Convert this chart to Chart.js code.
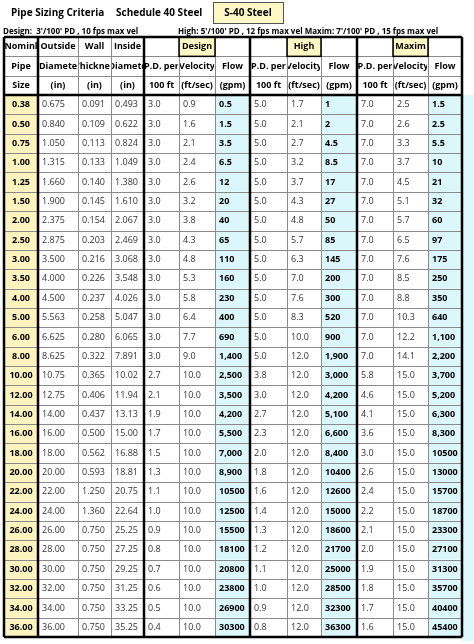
<!DOCTYPE html>
<html>
<head>
<meta charset="utf-8">
<script src="https://cdn.jsdelivr.net/npm/chart.js@4.4.0/dist/chart.umd.min.js"></script>
<style>
  html, body { margin: 0; padding: 0; background: #fff; }
  #wrap { width: 474px; height: 644px; position: relative; }
</style>
</head>
<body>
<div id="wrap"><canvas id="pipe-table"></canvas></div>
<script>
// Table values
const sizes = ["0.38","0.50","0.75","1.00","1.25","1.50","2.00","2.50","3.00","3.50","4.00","5.00","6.00","8.00","10.00","12.00","14.00","16.00","18.00","20.00","22.00","24.00","26.00","28.00","30.00","32.00","34.00","36.00"];
const outsideDia = ["0.675","0.840","1.050","1.315","1.660","1.900","2.375","2.875","3.500","4.000","4.500","5.563","6.625","8.625","10.75","12.75","14.00","16.00","18.00","20.00","22.00","24.00","26.00","28.00","30.00","32.00","34.00","36.00"];
const wall = ["0.091","0.109","0.113","0.133","0.140","0.145","0.154","0.203","0.216","0.226","0.237","0.258","0.280","0.322","0.365","0.406","0.437","0.500","0.562","0.593","1.250","1.360","0.750","0.750","0.750","0.750","0.750","0.750"];
const insideDia = ["0.493","0.622","0.824","1.049","1.380","1.610","2.067","2.469","3.068","3.548","4.026","5.047","6.065","7.891","10.02","11.94","13.13","15.00","16.88","18.81","20.75","22.64","25.25","27.25","29.25","31.25","33.25","35.25"];
const designPD = ["3.0","3.0","3.0","3.0","3.0","3.0","3.0","3.0","3.0","3.0","3.0","3.0","3.0","3.0","2.7","2.1","1.9","1.7","1.5","1.3","1.1","1.0","0.9","0.8","0.7","0.6","0.5","0.4"];
const designVel = ["0.9","1.6","2.1","2.4","2.6","3.2","3.8","4.3","4.8","5.3","5.8","6.4","7.7","9.0","10.0","10.0","10.0","10.0","10.0","10.0","10.0","10.0","10.0","10.0","10.0","10.0","10.0","10.0"];
const designFlow = ["0.5","1.5","3.5","6.5","12","20","40","65","110","160","230","400","690","1,400","2,500","3,500","4,200","5,500","7,000","8,900","10500","12500","15500","18100","20800","23800","26900","30300"];
const highPD = ["5.0","5.0","5.0","5.0","5.0","5.0","5.0","5.0","5.0","5.0","5.0","5.0","5.0","5.0","3.8","3.0","2.7","2.3","2.0","1.8","1.6","1.4","1.3","1.2","1.1","1.0","0.9","0.8"];
const highVel = ["1.7","2.1","2.7","3.2","3.7","4.3","4.8","5.7","6.3","7.0","7.6","8.3","10.0","12.0","12.0","12.0","12.0","12.0","12.0","12.0","12.0","12.0","12.0","12.0","12.0","12.0","12.0","12.0"];
const highFlow = ["1","2","4.5","8.5","17","27","50","85","145","200","300","520","900","1,900","3,000","4,200","5,100","6,600","8,400","10400","12600","15000","18600","21700","25000","28500","32300","36300"];
const maxPD = ["7.0","7.0","7.0","7.0","7.0","7.0","7.0","7.0","7.0","7.0","7.0","7.0","7.0","7.0","5.8","4.6","4.1","3.6","3.0","2.6","2.4","2.2","2.1","2.0","1.9","1.8","1.7","1.6"];
const maxVel = ["2.5","2.6","3.3","3.7","4.5","5.1","5.7","6.5","7.6","8.5","8.8","10.3","12.2","14.1","15.0","15.0","15.0","15.0","15.0","15.0","15.0","15.0","15.0","15.0","15.0","15.0","15.0","15.0"];
const maxFlow = ["1.5","2.5","5.5","10","21","32","60","97","175","250","350","640","1,100","2,200","3,700","5,200","6,300","8,300","10500","13000","15700","18700","23300","27100","31300","35700","40400","45400"];

const headerRows = [
  ["Nominl","Outside","Wall","Inside","","Design","","","High","","","Maxim",""],
  ["Pipe","Diamete","Thicknes","Diamete","P.D. per","Velocity","Flow","P.D. per","Velocity","Flow","P.D. per","Velocity","Flow"],
  ["Size","(in)","(in)","(in)","100 ft","(ft/sec)","(gpm)","100 ft","(ft/sec)","(gpm)","100 ft","(ft/sec)","(gpm)"]
];
const columns = [sizes, outsideDia, wall, insideDia, designPD, designVel, designFlow, highPD, highVel, highFlow, maxPD, maxVel, maxFlow];

// layout constants
const colWidths = [34, 40, 33, 33, 35, 36, 35, 37, 34, 36, 36, 35, 34];
const colEdges = [0];
colWidths.forEach(w => colEdges.push(colEdges[colEdges.length - 1] + w));
const nRows = headerRows.length + sizes.length;
const thickCols = [0, 1, 4, 7, 10, 13];
const boldCols = [0, 6, 9, 12];
const flowCols = [6, 9, 12];
const FONT = "'Open Sans'";

const tablePlugin = {
    id: "pipeTable",
    afterDraw(chart) {
        const ctx = chart.ctx;
        const x = chart.scales.x, y = chart.scales.y;
        const px = c => x.getPixelForValue(colEdges[c]);
        const py = r => y.getPixelForValue(r);
        ctx.save();

        // titles
        ctx.fillStyle = "#000";
        ctx.textBaseline = "middle";
        ctx.font = "bold 10px " + FONT;
        ctx.fillText("Pipe Sizing Criteria", 11, 13);
        ctx.fillText("Schedule 40 Steel", 116, 13);
        ctx.fillStyle = "#fff8c4";
        ctx.fillRect(213, 2, 70, 21);
        ctx.strokeStyle = "#555";
        ctx.lineWidth = 1;
        ctx.strokeRect(213.5, 2.5, 70, 21);
        ctx.fillStyle = "#000";
        ctx.textAlign = "center";
        ctx.fillText("S-40 Steel", 248, 13);
        ctx.textAlign = "left";
        ctx.font = "bold 8px " + FONT;
        ctx.fillText("Design:  3'/100' PD , 10 fps max vel", 3, 32);
        ctx.fillText("High: 5'/100' PD , 12 fps max vel Maxim: 7'/100' PD , 15 fps max vel", 178, 32);

        // fills
        const lastRow = nRows;
        ctx.fillStyle = "#dff8fb";
        ctx.fillRect(px(13), py(3), 474 - px(13), py(lastRow) - py(3) + 4);
        for (let r = 3; r < lastRow; r++) {
            ctx.fillStyle = "#fdf3bf";
            ctx.fillRect(px(0), py(r), px(1) - px(0), py(r + 1) - py(r));
            flowCols.forEach(c => {
                ctx.fillStyle = "#dcf7fb";
                ctx.fillRect(px(c), py(r), px(c + 1) - px(c), py(r + 1) - py(r));
            });
        }
        [5, 8, 11].forEach(c => {
            ctx.fillStyle = "#fff8c4";
            ctx.fillRect(px(c), py(0), px(c + 1) - px(c), py(1) - py(0));
        });

        // thin grid
        ctx.strokeStyle = "#8a8a8a";
        ctx.lineWidth = 1;
        for (let r = 0; r <= lastRow; r++) {
            ctx.beginPath();
            ctx.moveTo(px(0), Math.round(py(r)) + 0.5);
            ctx.lineTo(px(13), Math.round(py(r)) + 0.5);
            ctx.stroke();
        }
        for (let c = 0; c <= 13; c++) {
            ctx.beginPath();
            ctx.moveTo(Math.round(px(c)) + 0.5, py(0));
            ctx.lineTo(Math.round(px(c)) + 0.5, py(lastRow));
            ctx.stroke();
        }
        // thick borders
        ctx.strokeStyle = "#000";
        ctx.lineWidth = 2.5;
        thickCols.forEach(c => {
            ctx.beginPath();
            ctx.moveTo(px(c), py(0));
            ctx.lineTo(px(c), py(lastRow));
            ctx.stroke();
        });
        [0, 3, lastRow].forEach(r => {
            ctx.beginPath();
            ctx.moveTo(px(0), py(r));
            ctx.lineTo(px(13), py(r));
            ctx.stroke();
        });
        ctx.lineWidth = 1.5;
        [5, 8, 11].forEach(c => {
            ctx.strokeRect(px(c), py(0), px(c + 1) - px(c), py(1) - py(0));
        });

        // text
        for (let c = 0; c < 13; c++) {
            const cx = (px(c) + px(c + 1)) / 2;
            headerRows.forEach((row, r) => {
                ctx.font = "bold 9px " + FONT;
                ctx.textAlign = "center";
                ctx.fillStyle = "#000";
                const w = px(c + 1) - px(c) - 2;
                ctx.save();
                ctx.beginPath();
                ctx.rect(px(c) + 1, py(r), w, py(r + 1) - py(r));
                ctx.clip();
                ctx.fillText(row[c], cx, (py(r) + py(r + 1)) / 2);
                ctx.restore();
            });
            columns[c].forEach((v, i) => {
                const r = i + 3;
                const bold = boldCols.includes(c);
                ctx.font = (bold ? "bold 9px " : "9px ") + FONT;
                ctx.fillStyle = bold ? "#000" : "#333";
                const cy = (py(r) + py(r + 1)) / 2;
                if (c === 0) {
                    ctx.textAlign = "center";
                    ctx.fillText(v, cx, cy);
                } else {
                    ctx.textAlign = "left";
                    ctx.fillText(v, px(c) + 4, cy);
                }
            });
        }
        ctx.restore();
    }
};

const ctx = document.getElementById("pipe-table").getContext("2d");
new Chart(ctx, {
    type: "scatter",
    data: {
        datasets: [{
            label: "Design Flow",
            data: designFlow.map((v, i) => ({ x: 0, y: i + 3 })),
            pointRadius: 0
        }]
    },
    options: {
        responsive: true,
        maintainAspectRatio: false,
        animation: false,
        layout: { padding: { left: 4, right: 12, top: 37, bottom: 7 } },
        plugins: { legend: { display: false }, tooltip: { enabled: false } },
        scales: {
            x: { type: "linear", min: 0, max: colEdges[colEdges.length - 1], display: false },
            y: { type: "linear", min: 0, max: nRows, reverse: true, display: false }
        }
    },
    plugins: [tablePlugin]
});
</script>
</body>
</html>
